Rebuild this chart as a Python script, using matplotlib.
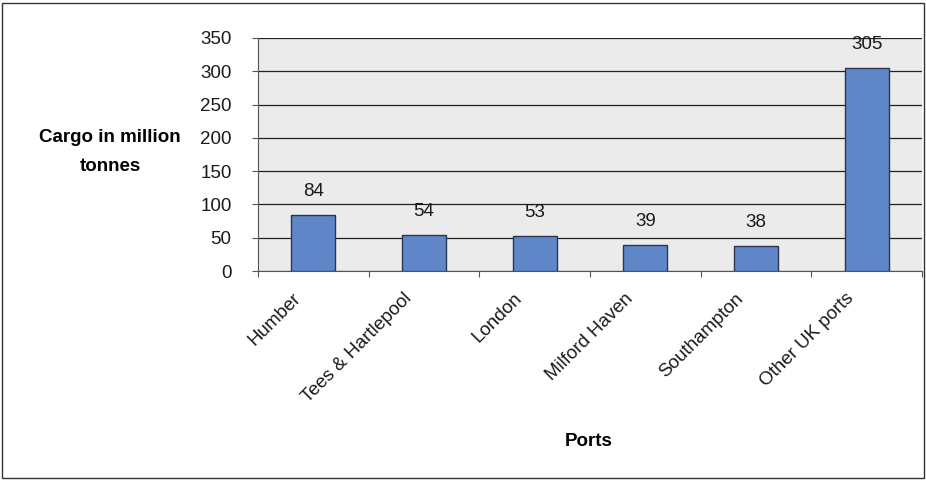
import matplotlib
matplotlib.use("Agg")
import matplotlib.pyplot as plt
import matplotlib.transforms as mtransforms
from matplotlib.patches import Rectangle

ports = ["Humber", "Tees & Hartlepool", "London", "Milford Haven",
         "Southampton", "Other UK ports"]
cargo = [84, 54, 53, 39, 38, 305]
yticks = [0, 50, 100, 150, 200, 250, 300, 350]

plt.rcParams['font.family'] = ['Liberation Sans', 'DejaVu Sans']

fig = plt.figure(figsize=(9.26, 4.8), dpi=100)
fig.patch.set_facecolor('white')
ax = fig.add_axes([258 / 926, 1 - 271 / 480, (922 - 258) / 926, (271 - 38) / 480])
ax.set_facecolor('#ebebeb')

x = list(range(len(ports)))
bars = ax.bar(x, cargo, width=0.4, color='#5f86c9', edgecolor='#2b3550',
              linewidth=1.0, zorder=3)

for xi, v in zip(x, cargo):
    ax.annotate(str(v), (xi, v), xytext=(0, 17), textcoords='offset points',
                ha='center', va='center', fontsize=13.5, color='#1a1a1a')

ax.set_xlim(-0.5, len(ports) - 0.5)
ax.set_ylim(0, 350)
ax.set_yticks(yticks)
ax.yaxis.grid(True, color='#222222', linewidth=0.9, zorder=1)
ax.set_axisbelow(True)

# category boundary ticks (major) and labels at centres (minor)
ax.set_xticks([i + 0.5 for i in range(-1, len(ports))])
ax.set_xticklabels([])
ax.tick_params(axis='x', length=4, color='#555555')
ax.set_xticks(x, minor=True)
ax.set_xticklabels(ports, minor=True, rotation=45, ha='right', va='top',
                   rotation_mode='anchor', fontsize=13.5, color='#1a1a1a')
ax.tick_params(axis='x', which='minor', length=0, pad=8)
shift = mtransforms.ScaledTranslation(-21 / 100, -8 / 100, fig.dpi_scale_trans)
for lab in ax.get_xticklabels(minor=True):
    lab.set_transform(lab.get_transform() + shift)
ax.tick_params(axis='y', labelsize=13.5, length=4, pad=15, color='#555555',
               labelcolor='#1a1a1a')

for side in ['top', 'right']:
    ax.spines[side].set_visible(False)
ax.spines['left'].set_color('#555555')
ax.spines['bottom'].set_color('#555555')

fig.text(110 / 926, 1 - 152 / 480, "Cargo in million\ntonnes", ha='center', va='center',
         fontsize=13.5, fontweight='bold', linespacing=1.95)
fig.text(589 / 926, 1 - 442 / 480, "Ports", ha='center', va='center',
         fontsize=13.5, fontweight='bold')

fig.patches.append(Rectangle((2 / 926, 2 / 480), 922 / 926, 475 / 480, transform=fig.transFigure,
                             fill=False, edgecolor='#333333', linewidth=1.0))

fig.savefig('out.png', dpi=100)
